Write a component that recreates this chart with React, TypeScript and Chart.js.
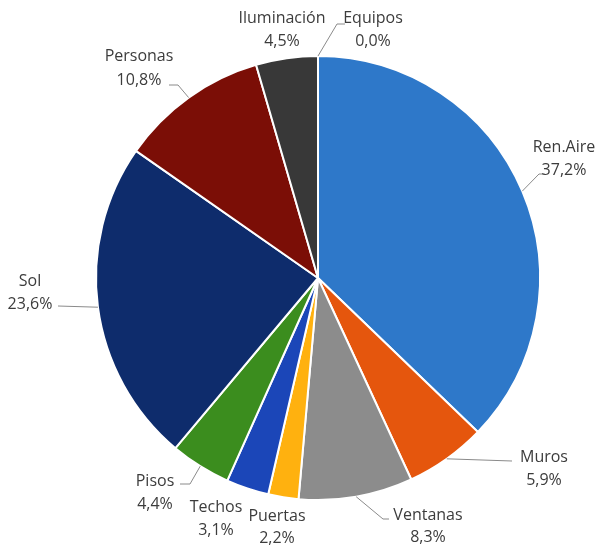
import React, { useEffect, useRef } from "react";
import { Chart, registerables } from "chart.js";

Chart.register(...registerables);

const categories = ["Ren.Aire", "Muros", "Ventanas", "Puertas", "Techos", "Pisos", "Sol", "Personas", "Iluminación", "Equipos"];
const values = [37.2, 5.9, 8.3, 2.2, 3.1, 4.4, 23.6, 10.8, 4.5, 0.0];
const colors = ["#2E78C9", "#E5560D", "#8C8C8C", "#FFB10F", "#1B46B8", "#3B8D1E", "#0E2C6C", "#7B0E06", "#383838", "#A5A5A5"];

// label layout (text centre x, first-line y, line gap, leader-line points after the slice edge)
const labelLayout: { x: number; y: number; gap: number; line: number[][] }[] = [
  { x: 564, y: 147, gap: 23, line: [[539, 174], [545, 174]] },
  { x: 544, y: 457, gap: 23, line: [[512, 461]] },
  { x: 428, y: 515, gap: 22, line: [[383, 519], [389, 519]] },
  { x: 277, y: 516, gap: 22, line: [] },
  { x: 216, y: 507, gap: 23, line: [] },
  { x: 155, y: 481, gap: 23, line: [[190, 484], [180, 484]] },
  { x: 30, y: 281, gap: 23, line: [[58, 306]] },
  { x: 139, y: 56, gap: 24, line: [[178, 85], [169, 85]] },
  { x: 282, y: 18, gap: 23, line: [] },
  { x: 373, y: 18, gap: 23, line: [[337, 24], [345, 24]] },
];

const labelPlugin = {
  id: "pieLabels",
  afterDatasetsDraw(chart: any) {
    const ctx = chart.ctx;
    const meta = chart.getDatasetMeta(0);
    ctx.save();
    meta.data.forEach((arc: any, i: number) => {
      const lay = labelLayout[i];
      const mid = (arc.startAngle + arc.endAngle) / 2;
      const ex = arc.x + Math.cos(mid) * arc.outerRadius;
      const ey = arc.y + Math.sin(mid) * arc.outerRadius;
      if (lay.line.length) {
        ctx.beginPath();
        ctx.strokeStyle = "#8a8a8a";
        ctx.lineWidth = 1;
        ctx.moveTo(ex, ey);
        lay.line.forEach((p) => ctx.lineTo(p[0], p[1]));
        ctx.stroke();
      }
      ctx.fillStyle = "#3c3c3c";
      ctx.font = "16px 'Open Sans'";
      ctx.textAlign = "center";
      ctx.textBaseline = "middle";
      ctx.fillText(categories[i], lay.x, lay.y);
      ctx.fillText(values[i].toFixed(1).replace(".", ",") + "%", lay.x, lay.y + lay.gap);
    });
    ctx.restore();
  },
};

export default function App() {
  const ref = useRef<HTMLCanvasElement>(null);
  useEffect(() => {
    document.body.style.margin = "0";
    const chart = new Chart(ref.current!, {
      type: "pie",
      data: {
        labels: categories,
        datasets: [
          {
            data: values,
            backgroundColor: colors,
            borderColor: "#ffffff",
            borderWidth: 2,
          },
        ],
      },
      options: {
        animation: false,
        responsive: false,
        layout: { padding: { left: 95, right: 72, top: 55, bottom: 44 } },
        plugins: { legend: { display: false }, tooltip: { enabled: false } },
      },
      plugins: [labelPlugin],
    });
    return () => chart.destroy();
  }, []);
  return (
    <div style={{ width: 613, height: 545, background: "#fff" }}>
      <canvas ref={ref} width={613} height={545} />
    </div>
  );
}
